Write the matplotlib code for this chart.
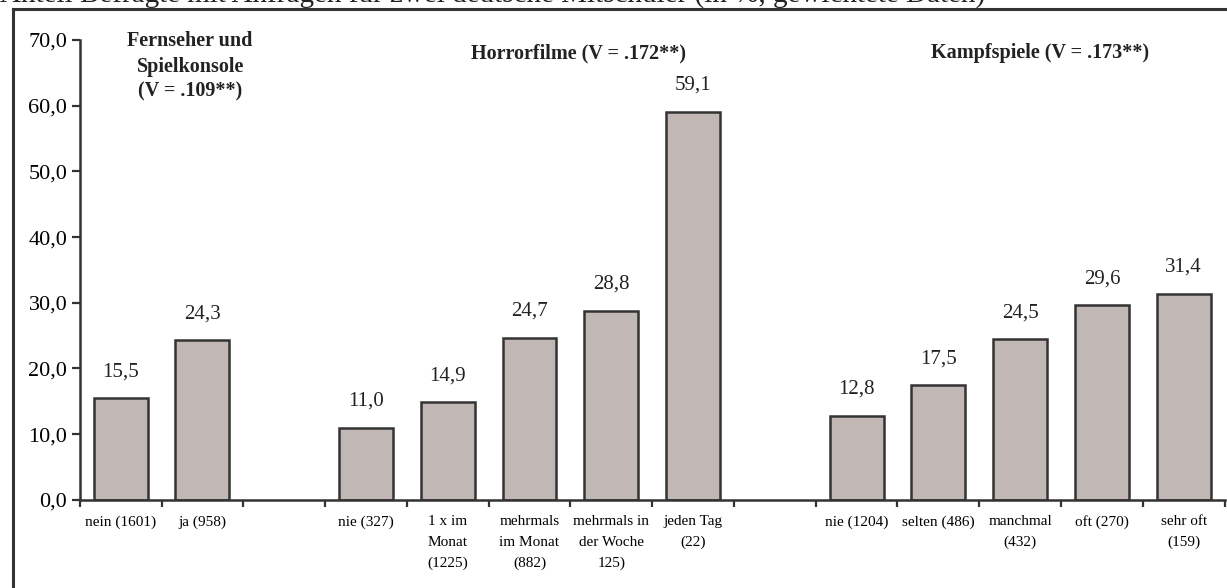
import matplotlib.pyplot as plt
from matplotlib.lines import Line2D

# Daten (in %, gewichtete Daten)
labels = ["nein (1601)", "ja (958)", "",
          "nie (327)", "1 x im\nMonat\n(1225)", "mehrmals\nim Monat\n(882)",
          "mehrmals in\nder Woche\n125)", "jeden Tag\n(22)", "",
          "nie (1204)", "selten (486)", "manchmal\n(432)", "oft (270)", "sehr oft\n(159)"]
values = [15.5, 24.3, None,
          11.0, 14.9, 24.7, 28.8, 59.1, None,
          12.8, 17.5, 24.5, 29.6, 31.4]
groups = ["Fernseher und\nSpielkonsole\n(V = .109**)",
          "Horrorfilme (V = .172**)",
          "Kampfspiele (V = .173**)"]
yticks = [0, 10, 20, 30, 40, 50, 60, 70]

serif = "Liberation Serif"
plt.rcParams["font.family"] = [serif, "DejaVu Serif"]

fig = plt.figure(figsize=(12.27, 5.88), dpi=100)
ax = fig.add_axes([0.065, 0.150, 0.933, 0.782])

dark = "#333333"
for i, v in enumerate(values):
    if v is None:
        continue
    ax.bar(i + 0.5, v, width=0.66, color="#c1b8b5", edgecolor=dark, linewidth=1.8)
    ax.text(i + 0.5, v + 4.0, f"{v:.1f}".replace(".", ","), ha="center", va="center",
            fontsize=15, color="#222222")

ax.set_xlim(0, len(values))
ax.set_ylim(0, 70)
ax.set_yticks(yticks)
ax.set_yticklabels([f"{t:.1f}".replace(".", ",") for t in yticks], fontsize=16)
ax.set_xticks(range(len(values) + 1))
ax.set_xticklabels([])
ax.set_xticks([i + 0.5 for i in range(len(values))], minor=True)
ax.set_xticklabels(labels, minor=True, fontsize=11, linespacing=1.75, va="top")
ax.tick_params(axis="x", which="minor", length=0, pad=11)
ax.tick_params(axis="x", which="major", direction="out", length=5, width=1.6, color=dark)
ax.tick_params(axis="y", direction="out", length=6, width=1.6, color=dark, pad=3)
for s in ["top", "right"]:
    ax.spines[s].set_visible(False)
for s in ["left", "bottom"]:
    ax.spines[s].set_linewidth(1.8)
    ax.spines[s].set_color(dark)

# Gruppentitel
ax.text(1.35, 71.3, groups[0], ha="center", va="top", fontsize=14.5, fontweight="bold",
        linespacing=1.35, color="#222222")
ax.text(6.1, 68.0, groups[1], ha="center", va="center", fontsize=14.5, fontweight="bold",
        color="#222222")
ax.text(11.75, 68.0, groups[2], ha="center", va="center", fontsize=14.5, fontweight="bold",
        color="#222222")

# abgeschnittene Überschrift und Rahmen
fig.text(0.0, 0.995, "Anteil Befragte mit Anfragen für zwei deutsche Mitschüler (in %, gewichtete Daten)",
         ha="left", va="baseline", fontsize=21, color="#222222")
fig.add_artist(Line2D([0.0105, 1.0], [1 - 9 / 588, 1 - 9 / 588], color=dark, lw=2.2))
fig.add_artist(Line2D([0.0105, 0.0105], [0.0, 1 - 9 / 588], color=dark, lw=2.2))

fig.savefig("out.png", dpi=100)
